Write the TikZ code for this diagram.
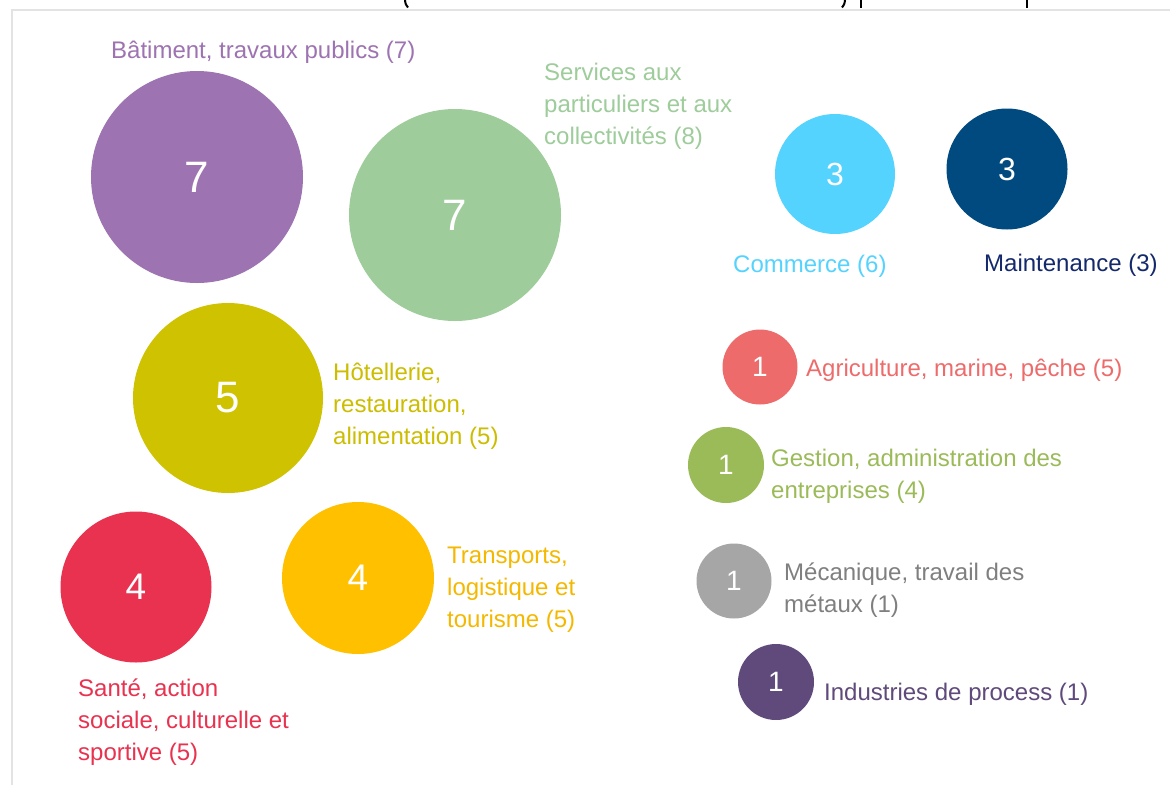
\documentclass[tikz,border=0pt]{standalone}
\usepackage{fontspec}
\setmainfont{Liberation Sans}
\definecolor{cPurple}{HTML}{9D73B1}
\definecolor{cGreen}{HTML}{9ECC9B}
\definecolor{cOlive}{HTML}{CFC200}
\definecolor{cOliveT}{HTML}{CCBD00}
\definecolor{cRed}{HTML}{E8324F}
\definecolor{cYellow}{HTML}{FFC000}
\definecolor{cYellowT}{HTML}{F5B800}
\definecolor{cCyan}{HTML}{55D3FF}
\definecolor{cNavy}{HTML}{004A80}
\definecolor{cNavyT}{HTML}{13296B}
\definecolor{cCoral}{HTML}{EE6B6B}
\definecolor{cLime}{HTML}{9BBB59}
\definecolor{cGray}{HTML}{A6A6A6}
\definecolor{cGrayT}{HTML}{7F7F7F}
\definecolor{cPlum}{HTML}{5F4A7B}
\definecolor{cFrame}{HTML}{E3E3E3}
\begin{document}
\begin{tikzpicture}[x=1pt,y=-1pt,
  bub/.style={circle, inner sep=0pt, text=white},
  lab/.style={font=\fontsize{24}{32}\selectfont, anchor=base west, inner sep=0pt, align=left}]
\useasboundingbox[fill=white] (0,0) rectangle (1170,785);
% frame
\draw[cFrame, line width=1.2pt] (12,785) -- (12,10) -- (1170,10);
% title fragments (cut off)
\draw[black, line width=2pt] (405,0) .. controls (405.5,4) .. (408,7.5);
\draw[black, line width=2pt] (845,0) .. controls (844.5,4) .. (842,7.5);
\draw[black, line width=2.6pt] (861,0) -- (861,8);
\draw[black, line width=2.6pt] (1027,0) -- (1027,8);
% bubbles
\node[bub, fill=cPurple, minimum size=212pt, font=\fontsize{44}{44}\selectfont] (batc) at (197,177) {7};
\node[bub, fill=cGreen, minimum size=212pt, font=\fontsize{44}{44}\selectfont] (serc) at (455,215) {7};
\node[bub, fill=cOlive, minimum size=190pt, font=\fontsize{44}{44}\selectfont] (hotc) at (228,398) {5};
\node[bub, fill=cRed, minimum size=151pt, font=\fontsize{37}{37}\selectfont] (sanc) at (136,587) {4};
\node[bub, fill=cYellow, minimum size=152pt, font=\fontsize{37}{37}\selectfont] (trac) at (358,578) {4};
\node[bub, fill=cCyan, minimum size=120pt, font=\fontsize{32}{32}\selectfont] (comc) at (835,174) {3};
\node[bub, fill=cNavy, minimum size=121pt, font=\fontsize{32}{32}\selectfont] (maic) at (1007,169) {3};
\node[bub, fill=cCoral, minimum size=75pt, font=\fontsize{28}{28}\selectfont] (agrc) at (760,367) {1};
\node[bub, fill=cLime, minimum size=76pt, font=\fontsize{28}{28}\selectfont] (gesc) at (726,465) {1};
\node[bub, fill=cGray, minimum size=75pt, font=\fontsize{28}{28}\selectfont] (mecc) at (734,581) {1};
\node[bub, fill=cPlum, minimum size=76pt, font=\fontsize{28}{28}\selectfont] (indc) at (776,682) {1};
% labels (base anchor = baseline of last line)
\node[lab, text=cPurple] (batl) at (111,58) {Bâtiment, travaux publics (7)};
\node[lab, text=cGreen] (serl) at (544,144) {Services aux\\particuliers et aux\\collectivités (8)};
\node[lab, text=cCyan] (coml) at (733,272) {Commerce (6)};
\node[lab, text=cNavyT] (mail) at (984,271) {Maintenance (3)};
\node[lab, text=cOliveT] (hotl) at (333,444) {Hôtellerie,\\restauration,\\alimentation (5)};
\node[lab, text=cCoral] (agrl) at (806,376) {Agriculture, marine, pêche (5)};
\node[lab, text=cLime] (gesl) at (771,498) {Gestion, administration des\\entreprises (4)};
\node[lab, text=cYellowT] (tral) at (447,627) {Transports,\\logistique et\\tourisme (5)};
\node[lab, text=cGrayT] (mecl) at (784,612) {Mécanique, travail des\\métaux (1)};
\node[lab, text=cPlum] (indl) at (824,700) {Industries de process (1)};
\node[lab, text=cRed] (sanl) at (78,760) {Santé, action\\sociale, culturelle et\\sportive (5)};
\end{tikzpicture}
\end{document}
